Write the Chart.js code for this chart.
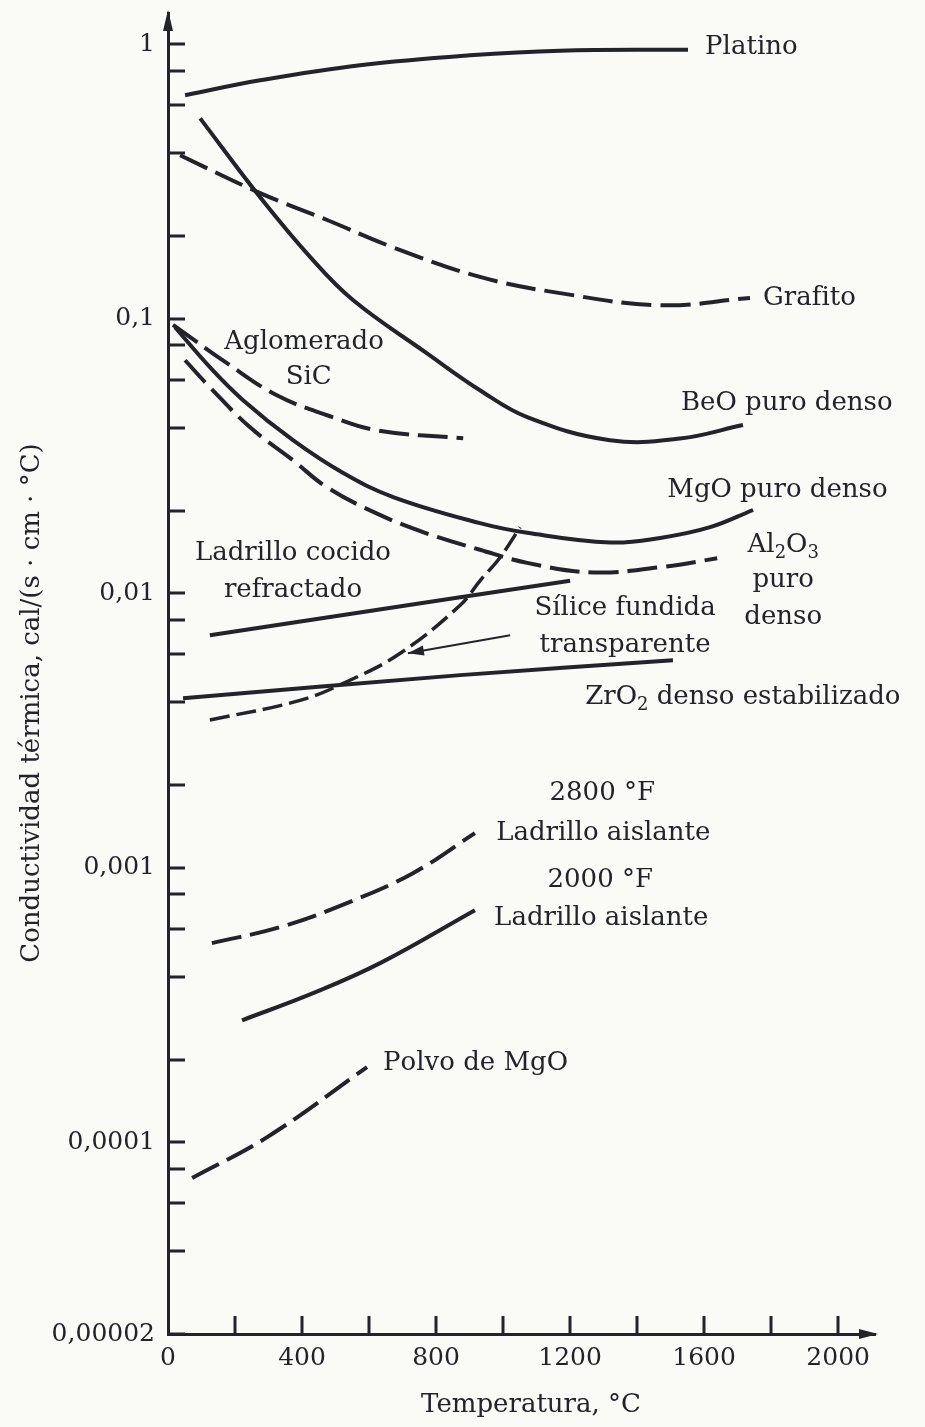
<!DOCTYPE html>
<html>
<head>
<meta charset="utf-8">
<script src="https://cdn.jsdelivr.net/npm/chart.js@4.4.1/dist/chart.umd.min.js"></script>
<style>
  html, body { margin: 0; padding: 0; background: #fafaf7; }
  canvas { display: block; }
</style>
</head>
<body>
<canvas id="chart" width="925" height="1427"></canvas>
<script>
// DATA (temperature in °C, conductivity in cal/(s·cm·°C))
const platinoT = [51, 275, 573, 901, 1170, 1552];
const platinoK = [0.652, 0.739, 0.839, 0.912, 0.948, 0.955];

const grafitoT = [36, 275, 475, 672, 931, 1170, 1469, 1737];
const grafitoK = [0.394, 0.287, 0.229, 0.182, 0.142, 0.124, 0.112, 0.119];

const beoT = [96, 275, 424, 552, 773, 931, 1072, 1319, 1528, 1716];
const beoK = [0.537, 0.277, 0.168, 0.117, 0.0748, 0.0549, 0.0438, 0.0361, 0.0366, 0.041];

const sicT = [15, 176, 325, 475, 624, 881];
const sicK = [0.095, 0.0689, 0.0526, 0.0445, 0.0392, 0.0367];

const mgoT = [21, 125, 224, 373, 523, 672, 931, 1072, 1319, 1469, 1618, 1746];
const mgoK = [0.0931, 0.0666, 0.0505, 0.0361, 0.0274, 0.0224, 0.018, 0.0166, 0.0153, 0.0159, 0.0174, 0.0201];

const al2o3T = [51, 125, 245, 373, 475, 624, 773, 931, 1072, 1269, 1469, 1639];
const al2o3K = [0.0706, 0.0563, 0.0402, 0.0305, 0.0243, 0.0195, 0.0165, 0.0144, 0.0129, 0.0119, 0.01244, 0.0134];

const cocidoT = [125, 872, 1200];
const cocidoK = [0.00703, 0.00967, 0.0111];

const siliceT = [125, 394, 543, 693, 872, 931, 991, 1051];
const siliceK = [0.00345, 0.00407, 0.00482, 0.00604, 0.00904, 0.0111, 0.0135, 0.0174];

const zro2T = [45, 872, 1507];
const zro2K = [0.00414, 0.00503, 0.0057];

const aislante2800T = [131, 334, 534, 731, 916];
const aislante2800K = [0.000531, 0.000607, 0.000743, 0.000955, 0.001336];

const aislante2000T = [221, 433, 633, 916];
const aislante2000K = [0.000278, 0.000349, 0.000449, 0.0007];

const polvoT = [72, 296, 594];
const polvoK = [0.000074, 0.0001043, 0.0001876];

// TICKS
const xTickValues = [0, 200, 400, 600, 800, 1000, 1200, 1400, 1600, 1800, 2000];
const xTickLabels = ["0", "", "400", "", "800", "", "1200", "", "1600", "", "2000"];
const yTickValues = [1, 0.8, 0.6, 0.4, 0.2, 0.1, 0.08, 0.06, 0.04, 0.02,
  0.01, 0.008, 0.006, 0.004, 0.002, 0.001, 0.0008, 0.0006, 0.0004, 0.0002,
  0.0001, 0.00008, 0.00006, 0.00004, 0.00002];
const yTickLabels = ["1", "", "", "", "", "0,1", "", "", "", "",
  "0,01", "", "", "", "", "0,001", "", "", "", "",
  "0,0001", "", "", "", "0,00002"];

const xTitle = "Temperatura, °C";
const yTitle = "Conductividad térmica, cal/(s · cm · °C)";

// curve labels, anchored in data space ("_" marks a subscript character)
const curveLabels = [
  { text: "Platino", t: 1603, k: 0.975, align: "left" },
  { text: "Grafito", t: 1776, k: 0.119, align: "left" },
  { text: "Aglomerado", t: 406, k: 0.082, align: "center" },
  { text: "SiC", t: 420, k: 0.0612, align: "center" },
  { text: "BeO puro denso", t: 1531, k: 0.0492, align: "left" },
  { text: "MgO puro denso", t: 1490, k: 0.0237, align: "left" },
  { text: "Al_2O_3", t: 1836, k: 0.01496, align: "center" },
  { text: "puro", t: 1836, k: 0.01115, align: "center" },
  { text: "denso", t: 1836, k: 0.00818, align: "center" },
  { text: "Ladrillo cocido", t: 373, k: 0.0140, align: "center" },
  { text: "refractado", t: 373, k: 0.01026, align: "center" },
  { text: "Sílice fundida", t: 1364, k: 0.00882, align: "center" },
  { text: "transparente", t: 1364, k: 0.00647, align: "center" },
  { text: "ZrO_2 denso estabilizado", t: 1245, k: 0.00418, align: "left" },
  { text: "2800 °F", t: 1296, k: 0.00187, align: "center" },
  { text: "Ladrillo aislante", t: 1299, k: 0.001336, align: "center" },
  { text: "2000 °F", t: 1290, k: 0.0009, align: "center" },
  { text: "Ladrillo aislante", t: 1293, k: 0.000655, align: "center" },
  { text: "Polvo de MgO", t: 642, k: 0.000194, align: "left" }
];
const siliceArrow = { from: [1021, 0.00703], to: [716, 0.00604] };

const INK = "#23232b";
const SERIF = "'DejaVu Serif', serif";

function toPoints(ts, ks) {
  return ts.map((t, i) => ({ x: t, y: ks[i] }));
}

function line(label, ts, ks, dash, width) {
  return {
    label: label,
    data: toPoints(ts, ks),
    borderColor: INK,
    borderWidth: width || 4,
    borderDash: dash || [],
    borderCapStyle: "butt",
    pointRadius: 0,
    fill: false,
    tension: 0.4
  };
}

const DASH = [30, 9];

const datasets = [
  line("Platino", platinoT, platinoK),
  line("Grafito", grafitoT, grafitoK, DASH),
  line("BeO puro denso", beoT, beoK),
  line("Aglomerado SiC", sicT, sicK, DASH),
  line("MgO puro denso", mgoT, mgoK),
  line("Al2O3 puro denso", al2o3T, al2o3K, DASH),
  line("Ladrillo cocido refractado", cocidoT, cocidoK),
  line("Sílice fundida transparente", siliceT, siliceK, [20, 7], 3.5),
  line("ZrO2 denso estabilizado", zro2T, zro2K),
  line("2800 °F Ladrillo aislante", aislante2800T, aislante2800K, DASH),
  line("2000 °F Ladrillo aislante", aislante2000T, aislante2000K),
  line("Polvo de MgO", polvoT, polvoK, DASH)
];

// draws text with single-character subscripts marked by "_"
function drawRich(ctx, text, x, y, align, size) {
  const parts = [];
  for (let i = 0; i < text.length; i++) {
    if (text[i] === "_") { parts.push([text[i + 1], true]); i++; }
    else parts.push([text[i], false]);
  }
  const mainFont = size + "px " + SERIF;
  const subFont = Math.round(size * 0.68) + "px " + SERIF;
  let w = 0;
  parts.forEach(p => { ctx.font = p[1] ? subFont : mainFont; w += ctx.measureText(p[0]).width; });
  let cx = align === "center" ? x - w / 2 : x;
  ctx.textAlign = "left";
  ctx.textBaseline = "middle";
  parts.forEach(p => {
    ctx.font = p[1] ? subFont : mainFont;
    ctx.fillText(p[0], cx, p[1] ? y + size * 0.3 : y);
    cx += ctx.measureText(p[0]).width;
  });
}

const paperPlugin = {
  id: "paper",
  beforeDraw(chart) {
    const ctx = chart.ctx;
    ctx.save();
    ctx.fillStyle = "#fafaf7";
    ctx.fillRect(0, 0, chart.width, chart.height);
    ctx.restore();
  }
};

const decorPlugin = {
  id: "decor",
  afterDraw(chart) {
    const ctx = chart.ctx;
    const xs = chart.scales.x, ys = chart.scales.y;
    const area = chart.chartArea;
    ctx.save();
    ctx.strokeStyle = INK;
    ctx.fillStyle = INK;

    // inward tick marks
    ctx.lineWidth = 3;
    yTickValues.forEach(v => {
      const py = Math.round(ys.getPixelForValue(v));
      ctx.beginPath();
      ctx.moveTo(area.left, py);
      ctx.lineTo(area.left + 17, py);
      ctx.stroke();
    });
    xTickValues.forEach(v => {
      if (v === 0) return;
      const px = Math.round(xs.getPixelForValue(v));
      ctx.beginPath();
      ctx.moveTo(px, area.bottom);
      ctx.lineTo(px, area.bottom - 18);
      ctx.stroke();
    });

    // axis arrows
    ctx.beginPath();
    ctx.moveTo(area.left, area.top - 3);
    ctx.lineTo(area.left - 5, area.top + 18);
    ctx.lineTo(area.left + 5, area.top + 18);
    ctx.closePath();
    ctx.fill();
    ctx.beginPath();
    ctx.moveTo(area.right + 3, area.bottom);
    ctx.lineTo(area.right - 16, area.bottom - 5);
    ctx.lineTo(area.right - 16, area.bottom + 5);
    ctx.closePath();
    ctx.fill();

    // pointer arrow for Sílice fundida
    const ax1 = xs.getPixelForValue(siliceArrow.from[0]);
    const ay1 = ys.getPixelForValue(siliceArrow.from[1]);
    const ax2 = xs.getPixelForValue(siliceArrow.to[0]);
    const ay2 = ys.getPixelForValue(siliceArrow.to[1]);
    ctx.lineWidth = 2;
    ctx.beginPath();
    ctx.moveTo(ax1, ay1);
    ctx.lineTo(ax2, ay2);
    ctx.stroke();
    const ang = Math.atan2(ay2 - ay1, ax2 - ax1);
    ctx.beginPath();
    ctx.moveTo(ax2, ay2);
    ctx.lineTo(ax2 - 16 * Math.cos(ang) + 5 * Math.sin(ang), ay2 - 16 * Math.sin(ang) - 5 * Math.cos(ang));
    ctx.lineTo(ax2 - 16 * Math.cos(ang) - 5 * Math.sin(ang), ay2 - 16 * Math.sin(ang) + 5 * Math.cos(ang));
    ctx.closePath();
    ctx.fill();

    // curve labels
    curveLabels.forEach(l => {
      drawRich(ctx, l.text, xs.getPixelForValue(l.t), ys.getPixelForValue(l.k), l.align, 26);
    });

    // axis titles
    ctx.font = "26px " + SERIF;
    ctx.textAlign = "center";
    ctx.textBaseline = "middle";
    ctx.fillText(xTitle, 531, 1405);
    ctx.translate(32, 703);
    ctx.rotate(-Math.PI / 2);
    ctx.fillText(yTitle, 0, 0);
    ctx.restore();
  }
};

new Chart(document.getElementById("chart"), {
  type: "line",
  data: { datasets: datasets },
  options: {
    responsive: false,
    animation: false,
    devicePixelRatio: 1,
    layout: { padding: { top: 13, right: 50, left: 0, bottom: 0 } },
    plugins: { legend: { display: false }, tooltip: { enabled: false } },
    scales: {
      x: {
        type: "linear",
        min: 0,
        max: 2110,
        grid: { display: false, drawTicks: false },
        border: { display: true, color: INK, width: 3 },
        afterBuildTicks: s => { s.ticks = xTickValues.map(v => ({ value: v })); },
        afterFit: s => { s.height = 93; s.paddingLeft = 0; s.paddingRight = 0; },
        ticks: {
          autoSkip: false,
          maxRotation: 0,
          padding: 9,
          color: INK,
          font: { family: SERIF, size: 25 },
          callback: (v, i) => xTickLabels[i]
        }
      },
      y: {
        type: "logarithmic",
        min: 0.00002,
        max: 1.3,
        grid: { display: false, drawTicks: false },
        border: { display: true, color: INK, width: 3 },
        afterBuildTicks: s => { s.ticks = yTickValues.map(v => ({ value: v })); },
        afterFit: s => { s.width = 168; s.paddingTop = 0; s.paddingBottom = 0; },
        ticks: {
          autoSkip: false,
          padding: 13,
          color: INK,
          font: { family: SERIF, size: 25 },
          callback: (v, i) => yTickLabels[i]
        }
      }
    }
  },
  plugins: [paperPlugin, decorPlugin]
});
</script>
</body>
</html>
